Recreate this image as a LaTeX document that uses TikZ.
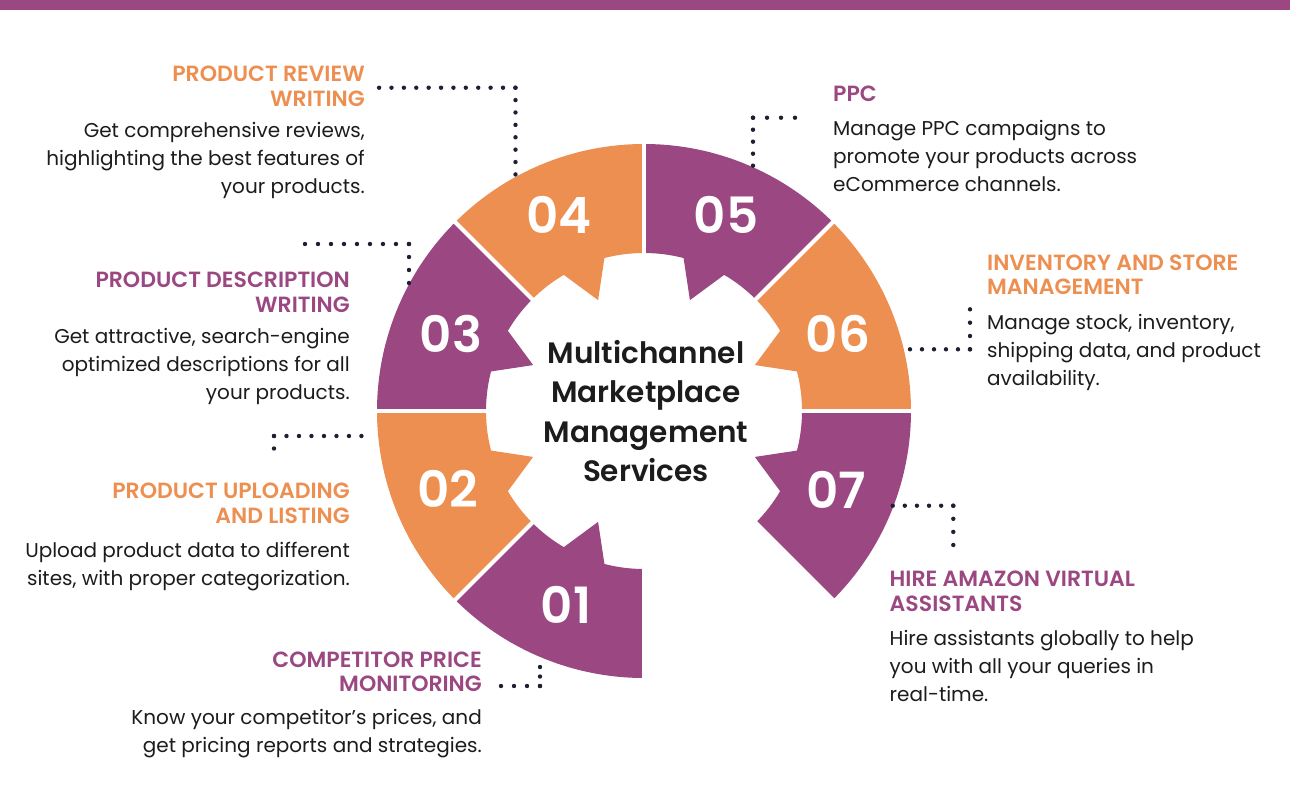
\documentclass[tikz,border=0pt]{standalone}
\usepackage{fontspec}
\setmainfont{Poppins}[BoldFont={Poppins SemiBold}]
\definecolor{mpurple}{HTML}{9B4882}
\definecolor{morange}{HTML}{EC8F51}
\definecolor{dotc}{HTML}{1F1F33}
\definecolor{txt}{HTML}{1C1C1C}
\begin{document}
\begin{tikzpicture}[x=1pt,y=-1pt,
  ttl/.style={font=\bfseries\fontsize{22}{24}\selectfont, inner sep=0pt},
  bdy/.style={font=\fontsize{20}{28}\selectfont, text=txt, inner sep=0pt},
  R/.style={anchor=base east}, L/.style={anchor=base west},
  numlbl/.style={font=\bfseries\fontsize{50}{50}\selectfont, text=white, inner sep=0pt},
  dotline/.style={draw=dotc, line width=4.4pt, line cap=round, dash pattern=on 0pt off #1}]
\useasboundingbox (0,0) rectangle (1290,800);
\fill[mpurple] (0,0) rectangle (1290,10);
% ring
\begin{scope}[shift={(644,411)}, x=1pt, y=1pt]
  \foreach \s/\col in {225/mpurple, 180/morange, 135/mpurple, 90/morange, 45/mpurple, 0/morange, -45/mpurple} {
    \pgfmathsetmacro\e{\s+45}
    \pgfmathsetmacro\c{\s+22.5}
    \pgfmathsetmacro\ca{\c+8}
    \pgfmathsetmacro\cb{\c-8}
    \fill[\col] (\s:267) arc[start angle=\s, end angle=\e, radius=267]
      -- (\e:158) arc[start angle=\e, end angle=\ca, radius=158]
      -- (\c:120) -- (\cb:158) arc[start angle=\cb, end angle=\s, radius=158] -- cycle;
  }
  \foreach \a in {0,45,...,315} \draw[white, line width=4pt] (\a:100) -- (\a:275);
\end{scope}
\node[numlbl] (n01) at (566,605) {01};
\node[numlbl] (n02) at (448,488.5) {02};
\node[numlbl] (n03) at (451,334) {03};
\node[numlbl] (n04) at (559,215) {04};
\node[numlbl] (n05) at (726,215) {05};
\node[numlbl] (n06) at (838,334) {06};
\node[numlbl] (n07) at (836,490) {07};
\node[font=\bfseries\fontsize{29.5}{39.5}\selectfont, align=center, text=txt, inner sep=0pt] (ctr) at (646,411) {Multichannel\\Marketplace\\Management\\Services};
% 04
\node[ttl,R,text=morange] (t4a) at (365,81.7) {PRODUCT REVIEW};
\node[ttl,R,text=morange] (t4b) at (365,106) {WRITING};
\node[bdy,R] (b4a) at (365,137.3) {Get comprehensive reviews,};
\node[bdy,R] (b4b) at (365,165.3) {highlighting the best features of};
\node[bdy,R] (b4c) at (365,193.3) {your products.};
% 03
\node[ttl,R,text=mpurple] (t3a) at (350,287.7) {PRODUCT DESCRIPTION};
\node[ttl,R,text=mpurple] (t3b) at (350,312.2) {WRITING};
\node[bdy,R] (b3a) at (350,343.3) {Get attractive, search-engine};
\node[bdy,R] (b3b) at (350,371.3) {optimized descriptions for all};
\node[bdy,R] (b3c) at (350,399.3) {your products.};
% 02
\node[ttl,R,text=morange] (t2a) at (350,498.5) {PRODUCT UPLOADING};
\node[ttl,R,text=morange] (t2b) at (350,523) {AND LISTING};
\node[bdy,R] (b2a) at (350,557.3) {Upload product data to different};
\node[bdy,R] (b2b) at (350,585.3) {sites, with proper categorization.};
% 01
\node[ttl,R,text=mpurple] (t1a) at (482,667) {COMPETITOR PRICE};
\node[ttl,R,text=mpurple] (t1b) at (482,691.5) {MONITORING};
\node[bdy,R] (b1a) at (482,724.3) {Know your competitor’s prices, and};
\node[bdy,R] (b1b) at (482,752.3) {get pricing reports and strategies.};
% 05
\node[ttl,L,text=mpurple] (t5a) at (833,101.5) {PPC};
\node[bdy,L] (b5a) at (833,135.3) {Manage PPC campaigns to};
\node[bdy,L] (b5b) at (833,163.3) {promote your products across};
\node[bdy,L] (b5c) at (833,191.3) {eCommerce channels.};
% 06
\node[ttl,L,text=morange] (t6a) at (987,270) {INVENTORY AND STORE};
\node[ttl,L,text=morange] (t6b) at (987,294.5) {MANAGEMENT};
\node[bdy,L] (b6a) at (987,329.3) {Manage stock, inventory,};
\node[bdy,L] (b6b) at (987,357.3) {shipping data, and product};
\node[bdy,L] (b6c) at (987,385.3) {availability.};
% 07
\node[ttl,L,text=mpurple] (t7a) at (889.5,586.7) {HIRE AMAZON VIRTUAL};
\node[ttl,L,text=mpurple] (t7b) at (889.5,611.2) {ASSISTANTS};
\node[bdy,L] (b7a) at (889.5,645.7) {Hire assistants globally to help};
\node[bdy,L] (b7b) at (889.5,673.7) {you with all your queries in};
\node[bdy,L] (b7c) at (889.5,701.7) {real-time.};
% dotted connectors
\coordinate (d4a) at (379.1,87.7); \coordinate (d4b) at (515.5,87.7); \coordinate (d4c) at (515.5,174.5);
\draw[dotline=12.39pt] (d4a) -- (d4b); \draw[dotline=12.39pt] (d4b) -- (d4c);
\coordinate (d3a) at (305,244); \coordinate (d3b) at (409,244); \coordinate (d3c) at (409,283);
\draw[dotline=12.99pt] (d3a) -- (d3b); \draw[dotline=12.99pt] (d3b) -- (d3c);
\coordinate (d2a) at (274,448.5); \coordinate (d2b) at (274,436); \coordinate (d2c) at (361.5,436);
\draw[dotline=12.49pt] (d2a) -- (d2b); \draw[dotline=12.49pt] (d2b) -- (d2c);
\coordinate (d1a) at (501,686); \coordinate (d1b) at (540,686); \coordinate (d1c) at (540,667);
\draw[dotline=12.99pt] (d1a) -- (d1b); \draw[dotline=9.49pt] (d1b) -- (d1c);
\coordinate (d5a) at (795,117.7); \coordinate (d5b) at (753,117.7); \coordinate (d5c) at (753,165.7);
\draw[dotline=13.99pt] (d5a) -- (d5b); \draw[dotline=11.99pt] (d5b) -- (d5c);
\coordinate (d6a) at (910,349.3); \coordinate (d6b) at (970,349.3); \coordinate (d6c) at (970,309.3);
\draw[dotline=11.99pt] (d6a) -- (d6b); \draw[dotline=13.32pt] (d6b) -- (d6c);
\coordinate (d7a) at (892.7,505.7); \coordinate (d7b) at (953.3,505.7); \coordinate (d7c) at (953.3,545);
\draw[dotline=12.11pt] (d7a) -- (d7b); \draw[dotline=13.09pt] (d7b) -- (d7c);
\end{tikzpicture}
\end{document}
